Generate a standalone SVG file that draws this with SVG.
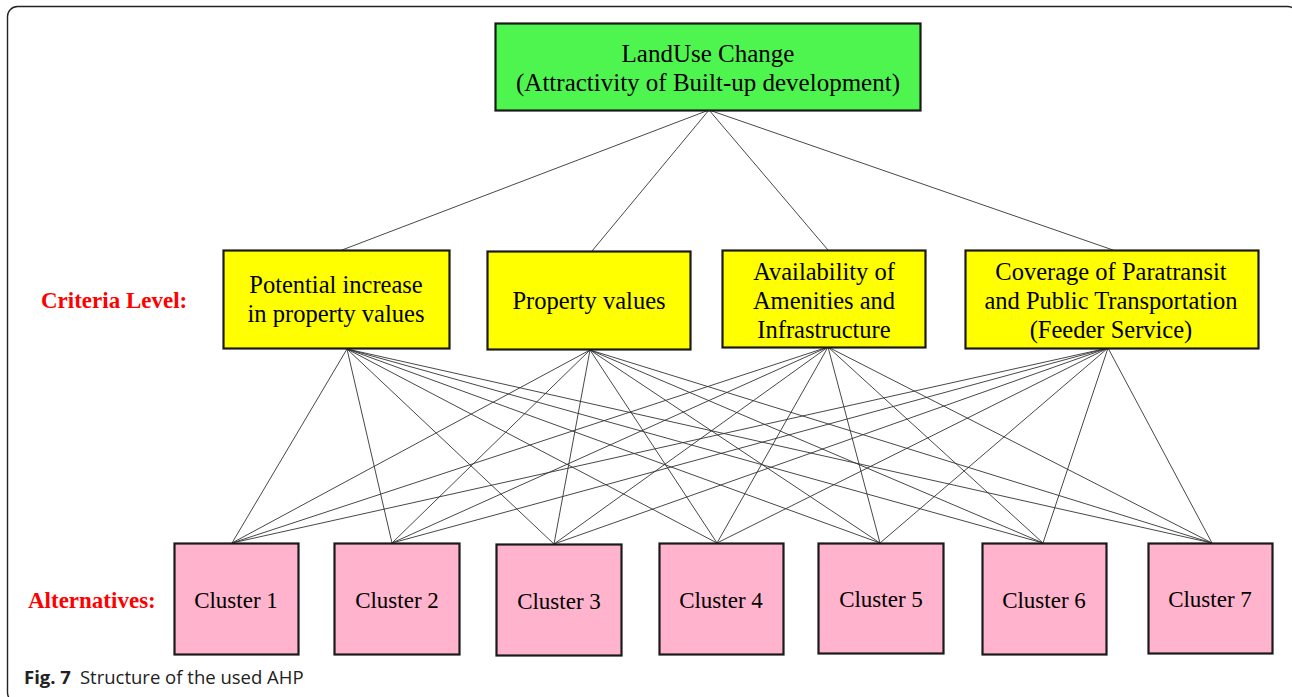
<svg xmlns="http://www.w3.org/2000/svg" width="1292" height="697" viewBox="0 0 1292 697">
<style>
.node{stroke:#1a1a1a;stroke-width:2.2}
.goal{fill:#4ff54f}
.crit{fill:#ffff00}
.alt{fill:#ffb3cc}
.t{font-family:"Liberation Serif","Times New Roman",serif;fill:#000;text-anchor:middle}
.lbl{font-family:"Liberation Serif","Times New Roman",serif;fill:#ff0000;font-weight:bold;font-size:23px}
.conn line{stroke:#333;stroke-width:0.9}
.cap{font-family:"Open Sans","Noto Sans",sans-serif;font-size:18.5px;fill:#222}
</style>
<rect x="7.5" y="6.5" width="1290" height="696" rx="10" fill="none" stroke="#222" stroke-width="1.4"/>
<g class="conn" id="connectors">
<line x1="709" y1="110" x2="342" y2="250"/>
<line x1="709" y1="110" x2="592" y2="251"/>
<line x1="709" y1="110" x2="828" y2="250"/>
<line x1="709" y1="110" x2="1113" y2="250"/>
<line x1="347" y1="349" x2="232" y2="543"/>
<line x1="347" y1="349" x2="392" y2="543"/>
<line x1="347" y1="349" x2="554" y2="544"/>
<line x1="347" y1="349" x2="717" y2="543"/>
<line x1="347" y1="349" x2="880" y2="543"/>
<line x1="347" y1="349" x2="1043" y2="543"/>
<line x1="347" y1="349" x2="1212" y2="543"/>
<line x1="590" y1="350" x2="232" y2="543"/>
<line x1="590" y1="350" x2="392" y2="543"/>
<line x1="590" y1="350" x2="554" y2="544"/>
<line x1="590" y1="350" x2="717" y2="543"/>
<line x1="590" y1="350" x2="880" y2="543"/>
<line x1="590" y1="350" x2="1043" y2="543"/>
<line x1="590" y1="350" x2="1212" y2="543"/>
<line x1="828" y1="347" x2="232" y2="543"/>
<line x1="828" y1="347" x2="392" y2="543"/>
<line x1="828" y1="347" x2="554" y2="544"/>
<line x1="828" y1="347" x2="717" y2="543"/>
<line x1="828" y1="347" x2="880" y2="543"/>
<line x1="828" y1="347" x2="1043" y2="543"/>
<line x1="828" y1="347" x2="1212" y2="543"/>
<line x1="1108" y1="348" x2="232" y2="543"/>
<line x1="1108" y1="348" x2="392" y2="543"/>
<line x1="1108" y1="348" x2="554" y2="544"/>
<line x1="1108" y1="348" x2="717" y2="543"/>
<line x1="1108" y1="348" x2="880" y2="543"/>
<line x1="1108" y1="348" x2="1043" y2="543"/>
<line x1="1108" y1="348" x2="1212" y2="543"/>
</g>
<g id="goal">
<rect class="node goal" x="495.5" y="23.5" width="425" height="87"/>
<text class="t" font-size="25" x="708" y="62">LandUse Change</text>
<text class="t" font-size="25" x="708" y="91">(Attractivity of Built-up development)</text>
</g>
<g id="crit1">
<rect class="node crit" x="223.5" y="250.5" width="226" height="98"/>
<text class="t" font-size="24.5" x="336" y="293">Potential increase</text>
<text class="t" font-size="24.5" x="336" y="322">in property values</text>
</g>
<g id="crit2">
<rect class="node crit" x="487.5" y="251.5" width="203" height="98"/>
<text class="t" font-size="24.5" x="589" y="309">Property values</text>
</g>
<g id="crit3">
<rect class="node crit" x="722.5" y="250.5" width="203" height="97"/>
<text class="t" font-size="24.5" x="824" y="280">Availability of</text>
<text class="t" font-size="24.5" x="824" y="309">Amenities and</text>
<text class="t" font-size="24.5" x="824" y="338">Infrastructure</text>
</g>
<g id="crit4">
<rect class="node crit" x="965.5" y="250.5" width="293" height="98"/>
<text class="t" font-size="24.5" x="1111" y="280">Coverage of Paratransit</text>
<text class="t" font-size="24.5" x="1111" y="309">and Public Transportation</text>
<text class="t" font-size="24.5" x="1111" y="338">(Feeder Service)</text>
</g>
<g id="cluster1"><rect class="node alt" x="174.5" y="543.5" width="124" height="111"/><text class="t" font-size="23" x="236" y="608">Cluster 1</text></g>
<g id="cluster2"><rect class="node alt" x="334.5" y="543.5" width="125" height="111"/><text class="t" font-size="23" x="397" y="608">Cluster 2</text></g>
<g id="cluster3"><rect class="node alt" x="496.5" y="544.5" width="125" height="111"/><text class="t" font-size="23" x="559" y="609">Cluster 3</text></g>
<g id="cluster4"><rect class="node alt" x="659.5" y="543.5" width="124" height="111"/><text class="t" font-size="23" x="721" y="608">Cluster 4</text></g>
<g id="cluster5"><rect class="node alt" x="818.5" y="543.5" width="125" height="110"/><text class="t" font-size="23" x="881" y="607">Cluster 5</text></g>
<g id="cluster6"><rect class="node alt" x="982.5" y="543.5" width="124" height="111"/><text class="t" font-size="23" x="1044" y="608">Cluster 6</text></g>
<g id="cluster7"><rect class="node alt" x="1148.5" y="543.5" width="124" height="110"/><text class="t" font-size="23" x="1210" y="607">Cluster 7</text></g>
<text class="lbl" x="41" y="308">Criteria Level:</text>
<text class="lbl" x="28" y="608">Alternatives:</text>
<text class="cap" x="24" y="684"><tspan font-weight="bold">Fig. 7</tspan><tspan dx="9">Structure of the used AHP</tspan></text>
</svg>
